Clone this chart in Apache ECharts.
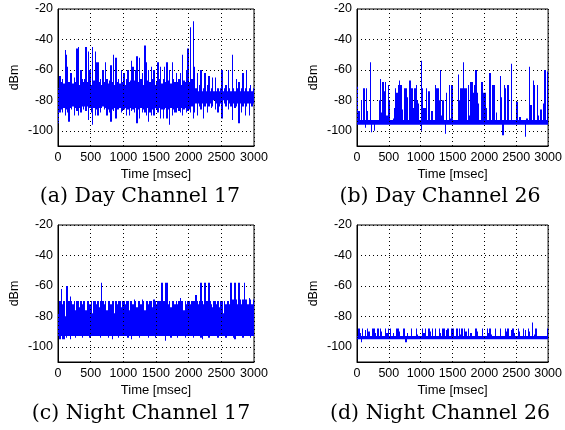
<!DOCTYPE html>
<html>
<head>
<meta charset="utf-8">
<script src="https://cdn.jsdelivr.net/npm/echarts@6/dist/echarts.min.js"></script>
<style>
  html, body { margin: 0; padding: 0; background: #fff; }
  #chart { width: 565px; height: 430px; }
</style>
</head>
<body>
<div id="chart"></div>
<script>
// received power, envelope of the trace per 20 ms bin (max / min), 0..3000 ms
var binMs = 20;

var dayCh17Hi = [
  -72,-64,-68,-66,-69,-47,-50,-58,-68,-62,
  -62,-69,-65,-68,-46,-45,-70,-60,-66,-68,
  -66,-45,-68,-48,-60,-70,-45,-67,-48,-55,
  -55,-68,-66,-70,-60,-68,-55,-66,-69,-67,
  -57,-68,-50,-70,-52,-68,-66,-69,-60,-68,
  -62,-70,-66,-60,-68,-67,-54,-58,-67,-60,
  -51,-68,-52,-66,-62,-70,-44,-55,-67,-60,
  -68,-58,-66,-60,-70,-68,-55,-66,-58,-69,
  -66,-58,-68,-55,-67,-60,-69,-55,-66,-68,
  -62,-68,-66,-62,-70,-50,-67,-68,-60,-46,
  -68,-32,-66,-28,-58,-72,-62,-74,-70,-60,
  -74,-72,-62,-74,-70,-64,-74,-72,-65,-74,
  -65,-74,-72,-74,-72,-60,-74,-72,-70,-74,
  -60,-72,-74,-50,-72,-74,-66,-72,-68,-74,
  -72,-62,-74,-72,-60,-74,-72,-70,-74,-72
];
var dayCh17Lo = [
  -95,-88,-86,-88,-85,-90,-86,-88,-94,-85,
  -86,-84,-90,-85,-87,-90,-85,-88,-84,-86,
  -84,-87,-84,-93,-85,-88,-96,-85,-90,-86,
  -90,-85,-88,-85,-84,-86,-85,-90,-86,-88,
  -94,-86,-87,-85,-92,-86,-86,-85,-88,-87,
  -86,-85,-90,-86,-90,-85,-87,-86,-88,-85,
  -95,-86,-92,-85,-88,-86,-88,-90,-85,-94,
  -88,-90,-86,-90,-85,-86,-88,-85,-92,-86,
  -92,-86,-85,-92,-86,-96,-85,-90,-86,-88,
  -88,-85,-87,-88,-85,-90,-86,-85,-88,-87,
  -86,-88,-84,-92,-88,-82,-90,-82,-84,-86,
  -82,-92,-84,-82,-88,-84,-82,-85,-84,-80,
  -86,-82,-88,-84,-82,-92,-80,-82,-84,-80,
  -86,-82,-84,-93,-82,-85,-84,-82,-95,-82,
  -88,-84,-82,-90,-84,-82,-90,-82,-84,-82
];

var dayCh26Hi = [
  -71,-87,-93,-80,-93,-72,-93,-72,-87,-93,
  -55,-93,-93,-93,-93,-93,-93,-80,-66,-88,
  -68,-74,-68,-90,-70,-80,-93,-93,-92,-85,
  -72,-75,-70,-67,-70,-86,-93,-72,-72,-78,
  -93,-67,-72,-72,-85,-72,-70,-80,-82,-93,
  -54,-72,-85,-85,-72,-93,-74,-93,-87,-87,
  -93,-70,-72,-72,-80,-60,-90,-80,-93,-93,
  -75,-93,-70,-92,-70,-93,-93,-93,-93,-63,
  -80,-72,-72,-55,-72,-72,-93,-70,-90,-68,
  -68,-75,-70,-60,-75,-82,-93,-68,-68,-75,
  -75,-85,-93,-93,-62,-93,-70,-70,-93,-88,
  -93,-93,-64,-78,-93,-70,-72,-93,-70,-93,
  -93,-56,-93,-93,-93,-81,-93,-91,-91,-93,
  -93,-93,-93,-92,-93,-58,-83,-93,-67,-70,
  -93,-70,-90,-93,-86,-93,-82,-60,-93,-61
];
var dayCh26Lo = [
  -96,-96,-96,-96,-96,-96,-98,-96,-96,-96,
  -96,-101,-96,-100,-96,-96,-96,-96,-96,-96,
  -96,-96,-96,-96,-96,-96,-96,-96,-96,-96,
  -96,-96,-96,-96,-96,-96,-96,-96,-96,-96,
  -96,-96,-96,-96,-96,-96,-96,-96,-96,-96,
  -100,-96,-96,-96,-96,-96,-96,-96,-96,-96,
  -96,-96,-96,-96,-96,-96,-96,-96,-96,-102,
  -96,-96,-96,-96,-96,-96,-96,-96,-96,-96,
  -96,-96,-96,-96,-96,-96,-96,-96,-96,-96,
  -96,-96,-96,-96,-96,-96,-96,-96,-96,-96,
  -96,-96,-96,-96,-96,-96,-96,-96,-96,-96,
  -96,-96,-96,-96,-103,-96,-96,-96,-96,-96,
  -96,-96,-96,-96,-96,-96,-96,-96,-96,-96,
  -96,-96,-104,-96,-96,-96,-96,-96,-96,-96,
  -96,-96,-96,-96,-96,-96,-96,-96,-96,-96
];

var nightCh17Hi = [
  -78,-70,-62,-72,-70,-80,-60,-60,-70,-67,
  -70,-72,-70,-76,-70,-70,-74,-70,-72,-70,
  -70,-76,-70,-70,-72,-70,-78,-70,-70,-72,
  -70,-74,-70,-58,-70,-72,-70,-76,-70,-70,
  -72,-70,-70,-78,-70,-72,-70,-70,-74,-70,
  -70,-72,-70,-70,-76,-70,-70,-72,-69,-70,
  -74,-70,-70,-72,-69,-70,-76,-70,-70,-72,
  -70,-70,-74,-69,-70,-72,-70,-70,-70,-58,
  -70,-70,-58,-58,-72,-70,-74,-70,-70,-72,
  -70,-72,-70,-68,-70,-70,-76,-70,-72,-70,
  -70,-72,-70,-70,-70,-66,-70,-72,-70,-58,
  -70,-72,-58,-70,-70,-58,-70,-72,-74,-70,
  -70,-72,-70,-74,-70,-70,-78,-70,-72,-70,
  -70,-72,-58,-69,-69,-58,-69,-72,-58,-69,
  -72,-69,-58,-69,-69,-72,-68,-69,-72,-69
];
var nightCh17Lo = [
  -93,-95,-93,-95,-95,-93,-94,-93,-93,-95,
  -93,-93,-93,-94,-93,-93,-93,-93,-94,-93,
  -93,-93,-93,-93,-94,-93,-93,-93,-93,-93,
  -93,-93,-94,-93,-93,-93,-93,-93,-94,-93,
  -93,-95,-93,-93,-93,-93,-94,-93,-93,-93,
  -93,-93,-93,-94,-93,-93,-95,-93,-93,-93,
  -93,-93,-94,-93,-93,-93,-93,-93,-93,-94,
  -93,-93,-93,-93,-94,-93,-93,-93,-93,-93,
  -93,-93,-96,-93,-93,-93,-94,-93,-93,-93,
  -93,-94,-93,-93,-93,-93,-93,-94,-93,-93,
  -93,-93,-93,-94,-93,-93,-93,-93,-93,-94,
  -95,-93,-93,-93,-93,-94,-93,-93,-93,-93,
  -93,-93,-94,-93,-93,-93,-93,-93,-94,-93,
  -93,-93,-93,-93,-94,-95,-93,-93,-93,-93,
  -93,-94,-93,-93,-93,-93,-93,-94,-93,-93
];

var nightCh26Hi = [
  -93,-88,-91,-93,-88,-93,-89,-93,-88,-90,
  -93,-93,-88,-88,-91,-93,-88,-93,-88,-90,
  -93,-93,-88,-91,-88,-93,-88,-93,-91,-93,
  -93,-88,-88,-90,-93,-93,-88,-88,-93,-91,
  -93,-93,-88,-93,-93,-93,-88,-92,-93,-93,
  -93,-88,-91,-88,-93,-93,-88,-90,-93,-88,
  -93,-88,-93,-93,-88,-91,-93,-88,-88,-93,
  -89,-88,-93,-93,-88,-88,-93,-93,-88,-93,
  -88,-92,-88,-93,-88,-90,-93,-88,-93,-91,
  -93,-93,-93,-88,-90,-93,-93,-93,-88,-93,
  -93,-93,-88,-91,-88,-92,-93,-93,-88,-93,
  -93,-93,-88,-93,-93,-93,-88,-90,-88,-93,
  -93,-89,-88,-91,-93,-93,-88,-90,-93,-93,
  -88,-93,-89,-93,-88,-90,-93,-84,-93,-92,
  -88,-93,-93,-93,-93,-93,-93,-93,-93,-88
];
var nightCh26Lo = [
  -95,-95,-95,-97,-95,-95,-95,-95,-95,-95,
  -95,-95,-95,-95,-95,-95,-95,-95,-95,-95,
  -95,-95,-95,-95,-95,-95,-95,-95,-95,-95,
  -95,-95,-95,-95,-95,-95,-95,-95,-97,-95,
  -95,-95,-95,-95,-95,-95,-95,-95,-95,-95,
  -95,-95,-95,-95,-95,-95,-95,-95,-95,-95,
  -95,-95,-95,-95,-95,-95,-95,-95,-95,-95,
  -95,-95,-95,-95,-95,-95,-95,-95,-95,-95,
  -95,-95,-95,-95,-95,-95,-95,-95,-95,-95,
  -95,-95,-95,-95,-95,-95,-95,-95,-95,-95,
  -95,-95,-95,-95,-95,-95,-95,-95,-95,-95,
  -95,-95,-95,-95,-95,-95,-95,-95,-95,-95,
  -95,-95,-95,-95,-95,-95,-95,-95,-95,-95,
  -95,-95,-95,-95,-95,-95,-95,-95,-95,-95,
  -95,-95,-95,-95,-95,-95,-95,-95,-95,-95
];

var captions = ['(a) Day Channel 17', '(b) Day Channel 26', '(c) Night Channel 17', '(d) Night Channel 26'];

var panels = [
  {hi: dayCh17Hi,   lo: dayCh17Lo,   left: 58,  top: 9,   capX: 140, capY: 197},
  {hi: dayCh26Hi,   lo: dayCh26Lo,   left: 357, top: 9,   capX: 440, capY: 197},
  {hi: nightCh17Hi, lo: nightCh17Lo, left: 58,  top: 225, capX: 141, capY: 414},
  {hi: nightCh26Hi, lo: nightCh26Lo, left: 357, top: 225, capX: 440, capY: 414}
];

function toRows(hi, lo) {
  var out = [];
  for (var i = 0; i < hi.length; i++) {
    out.push([i * binMs, hi[i], lo[i]]);
  }
  return out;
}

// one filled column per bin, from min to max, snapped to whole pixels
function renderColumn(params, api) {
  var t = api.value(0);
  var top = api.coord([t, api.value(1)]);
  var bottom = api.coord([t + binMs, api.value(2)]);
  var x0 = Math.round(top[0]);
  var x1 = Math.round(bottom[0]);
  if (x1 <= x0) x1 = x0 + 1;
  return {
    type: 'rect',
    shape: {x: x0, y: top[1], width: x1 - x0, height: bottom[1] - top[1]},
    style: {fill: '#0000ff'}
  };
}

var grids = [], xAxes = [], yAxes = [], series = [], graphics = [];
var font = '"Liberation Sans", Arial, sans-serif';

for (var p = 0; p < panels.length; p++) {
  var pn = panels[p];
  grids.push({
    left: pn.left, top: pn.top, width: 196, height: 137,
    show: true, borderColor: '#000', borderWidth: 1, backgroundColor: '#fff'
  });
  xAxes.push({
    gridIndex: p, type: 'value', min: 0, max: 3000, interval: 500,
    name: 'Time [msec]', nameLocation: 'middle', nameGap: 22,
    nameTextStyle: {color: '#000', fontSize: 13, fontFamily: font},
    axisLine: {show: true, lineStyle: {color: '#000', width: 1}},
    axisTick: {show: false},
    axisLabel: {color: '#000', fontSize: 12.5, fontFamily: font, margin: 5,
      formatter: function (v) { return String(v); }},
    splitLine: {show: true, lineStyle: {color: '#000', width: 1, type: [1, 3]}},
    z: 5
  });
  yAxes.push({
    gridIndex: p, type: 'value', min: -110, max: -20, splitNumber: 5,
    name: 'dBm', nameLocation: 'middle', nameGap: 37,
    nameTextStyle: {color: '#000', fontSize: 12.5, fontFamily: font},
    axisLine: {show: true, lineStyle: {color: '#000', width: 1}},
    axisTick: {show: false},
    axisLabel: {color: '#000', fontSize: 12.5, fontFamily: font, margin: 5, showMinLabel: false},
    splitLine: {show: true, lineStyle: {color: '#000', width: 1, type: [1, 3]}}
  });
  series.push({
    type: 'custom', xAxisIndex: p, yAxisIndex: p,
    renderItem: renderColumn,
    encode: {x: 0, y: [1, 2]},
    data: toRows(pn.hi, pn.lo),
    clip: true,
    animation: false
  });
  graphics.push({
    type: 'text', x: pn.capX, y: pn.capY,
    style: {
      text: captions[p], fill: '#000',
      font: '20.5px "DejaVu Serif", serif',
      textAlign: 'center', textVerticalAlign: 'middle'
    }
  });
}

var myChart = echarts.init(document.getElementById('chart'));
var option = {
  backgroundColor: '#fff',
  animation: false,
  grid: grids,
  xAxis: xAxes,
  yAxis: yAxes,
  series: series,
  graphic: graphics
};
myChart.setOption(option, true);
</script>
</body>
</html>
